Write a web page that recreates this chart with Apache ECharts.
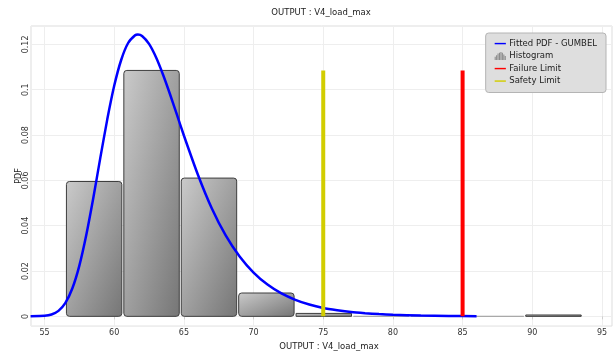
<!DOCTYPE html>
<html>
<head>
<meta charset="utf-8">
<script src="https://cdn.jsdelivr.net/npm/echarts@6/dist/echarts.min.js"></script>
<style>
html,body{margin:0;padding:0;background:#fff;}
#chart{width:615px;height:356px;}
</style>
</head>
<body>
<div id="chart"></div>
<script>
// Histogram bins (left edge, right edge, density)
var binLeft  = [56.50, 60.62, 64.74, 68.86, 72.98, 77.10, 81.22, 85.34, 89.46];
var binRight = [60.62, 64.74, 68.86, 72.98, 77.10, 81.22, 85.34, 89.46, 93.58];
var binDensity = [0.0595, 0.1085, 0.0610, 0.0103, 0.0013, 0, 0, 0, 0.0006];

// Fitted Gumbel PDF points
var pdfX = [54, 55, 55.5, 56, 56.5, 57, 57.5, 58, 58.5, 59, 59.5, 60, 60.5, 61, 61.5, 61.7, 62, 62.5, 63, 63.5, 64, 64.5, 65, 66, 67, 68, 69, 70, 71, 72, 73, 74, 75, 76, 77, 78, 79, 80, 82, 84, 86];
var pdfY = [0.00001, 0.00022, 0.00081, 0.00243, 0.00596, 0.01239, 0.0224, 0.0360, 0.0522, 0.0698, 0.0868, 0.1017, 0.1131, 0.1206, 0.1240, 0.1243, 0.1237, 0.1202, 0.1143, 0.1067, 0.0981, 0.0890, 0.0798, 0.0626, 0.0477, 0.0357, 0.0264, 0.0193, 0.0140, 0.0101, 0.0073, 0.0052, 0.0037, 0.0027, 0.0019, 0.0014, 0.0010, 0.0007, 0.00036, 0.00018, 0.00009];

// Limits
var failureLimit = 85;
var safetyLimit = 75;
var limitTop = 0.1085;

var xTicks = [55, 60, 65, 70, 75, 80, 85, 90, 95];
var yTicks = [0, 0.02, 0.04, 0.06, 0.08, 0.1, 0.12];

var chart = echarts.init(document.getElementById('chart'), null, {renderer: 'canvas'});

var histData = binLeft.map(function (l, i) { return [l, binRight[i], binDensity[i]]; });
var pdfData = pdfX.map(function (x, i) { return [x, pdfY[i]]; });

var FONT = 'DejaVu Sans';
var LINE_ICON = 'path://M0,0M14,10M0,4.2h14v1.8h-14z';
var HIST_ICON = 'path://M0,0M14,10M0,10V6h1.3v4zM1.8,10V4h1.3v6zM3.6,10V2h1.3v8zM5.4,10V1h1.3v9zM7.2,10V0h1.3v10zM9,10V1h1.3v9zM10.8,10V3h1.3v7zM12.6,10V5h1.3v5z';

var option = {
  animation: false,
  backgroundColor: '#ffffff',
  title: {
    text: 'OUTPUT : V4_load_max',
    left: 321,
    top: 8,
    padding: 0,
    textAlign: 'center',
    textStyle: {fontSize: 8.5, fontWeight: 'normal', color: '#222', fontFamily: FONT}
  },
  grid: {
    left: 31, right: 3, top: 26, bottom: 20,
    show: true, borderColor: '#dcdcdc', borderWidth: 1
  },
  legend: {
    orient: 'vertical',
    right: 9,
    top: 33,
    backgroundColor: '#dedede',
    borderColor: '#b4b4b4',
    borderWidth: 1,
    borderRadius: 3,
    padding: [6, 9, 7, 9],
    itemWidth: 14,
    itemHeight: 8,
    itemGap: 3.5,
    textStyle: {fontSize: 8.5, color: '#222', fontFamily: FONT, padding: [0, 0, 0, -3]},
    data: [
      {name: 'Fitted PDF - GUMBEL', icon: LINE_ICON, itemStyle: {color: '#0000ff'}},
      {name: 'Histogram', icon: HIST_ICON, itemStyle: {color: '#8a8a8a'}},
      {name: 'Failure Limit', icon: LINE_ICON, itemStyle: {color: '#ff0000'}},
      {name: 'Safety Limit', icon: LINE_ICON, itemStyle: {color: '#d2cd00'}}
    ]
  },
  xAxis: {
    type: 'value',
    min: 54.03,
    max: 95.72,
    splitNumber: 8,
    name: 'OUTPUT : V4_load_max',
    nameLocation: 'middle',
    nameGap: 11,
    nameTextStyle: {fontSize: 8.5, color: '#222', fontFamily: FONT, padding: [0, 0, 0, 15]},
    axisLine: {show: false},
    axisTick: {show: true, length: 3, lineStyle: {color: '#cfcfcf'}},
    axisLabel: {
      fontSize: 8, color: '#333', fontFamily: FONT, margin: 3,
      showMinLabel: false, showMaxLabel: false,
      formatter: function (v) { return xTicks.indexOf(v) >= 0 ? String(v) : ''; }
    },
    splitLine: {show: true, lineStyle: {color: '#eeeeee'}}
  },
  yAxis: {
    type: 'value',
    min: -0.0043,
    max: 0.1281,
    splitNumber: 6,
    name: 'PDF',
    nameLocation: 'middle',
    nameGap: 8,
    nameMoveOverlap: false,
    nameRotate: 90,
    nameTextStyle: {fontSize: 8, color: '#222', fontFamily: FONT},
    axisLine: {show: false},
    axisTick: {show: false},
    axisLabel: {
      fontSize: 8, color: '#333', fontFamily: FONT, rotate: 90, margin: 1,
      showMinLabel: false, showMaxLabel: false,
      formatter: function (v) {
        for (var i = 0; i < yTicks.length; i++) { if (Math.abs(yTicks[i] - v) < 1e-9) return String(yTicks[i]); }
        return '';
      }
    },
    splitLine: {show: true, lineStyle: {color: '#eeeeee'}}
  },
  series: [
    {
      name: 'Histogram',
      type: 'custom',
      z: 2,
      encode: {x: [0, 1], y: 2},
      data: histData,
      itemStyle: {color: '#8a8a8a'},
      renderItem: function (params, api) {
        var x0 = api.value(0), x1 = api.value(1), h = api.value(2);
        var p0 = api.coord([x0, h]);
        var p1 = api.coord([x1, 0]);
        var w = p1[0] - p0[0] - 2;
        var ht = Math.max(p1[1] - p0[1], 0.5);
        var gx = p0[0] + 1, gy = p0[1];
        // diagonal shading: light top-left, dark bottom-right
        var k = 2 / (1 / (w * w) + 1 / (ht * ht));
        var fill = new echarts.graphic.LinearGradient(gx, gy, gx + k / w, gy + k / ht, [
          {offset: 0, color: '#cacaca'},
          {offset: 1, color: '#767676'}
        ], true);
        return {
          type: 'rect',
          shape: {x: gx, y: gy, width: w, height: p1[1] - p0[1], r: ht > 4 ? 3 : 0},
          style: {
            fill: fill,
            stroke: h > 0 ? '#3d3d3d' : '#a8a8a8',
            lineWidth: 1
          }
        };
      }
    },
    {
      name: 'Fitted PDF - GUMBEL',
      type: 'line',
      z: 4,
      data: pdfData,
      showSymbol: false,
      symbol: 'none',
      smooth: 0.2,
      lineStyle: {color: '#0000ff', width: 2.5},
      itemStyle: {color: '#0000ff'}
    },
    {
      name: 'Failure Limit',
      type: 'line',
      z: 5,
      data: [[failureLimit, 0], [failureLimit, limitTop]],
      symbol: 'none',
      lineStyle: {color: '#ff0000', width: 4},
      itemStyle: {color: '#ff0000'}
    },
    {
      name: 'Safety Limit',
      type: 'line',
      z: 5,
      data: [[safetyLimit, 0], [safetyLimit, limitTop]],
      symbol: 'none',
      lineStyle: {color: '#d2cd00', width: 4},
      itemStyle: {color: '#d2cd00'}
    }
  ]
};

chart.setOption(option);
</script>
</body>
</html>
